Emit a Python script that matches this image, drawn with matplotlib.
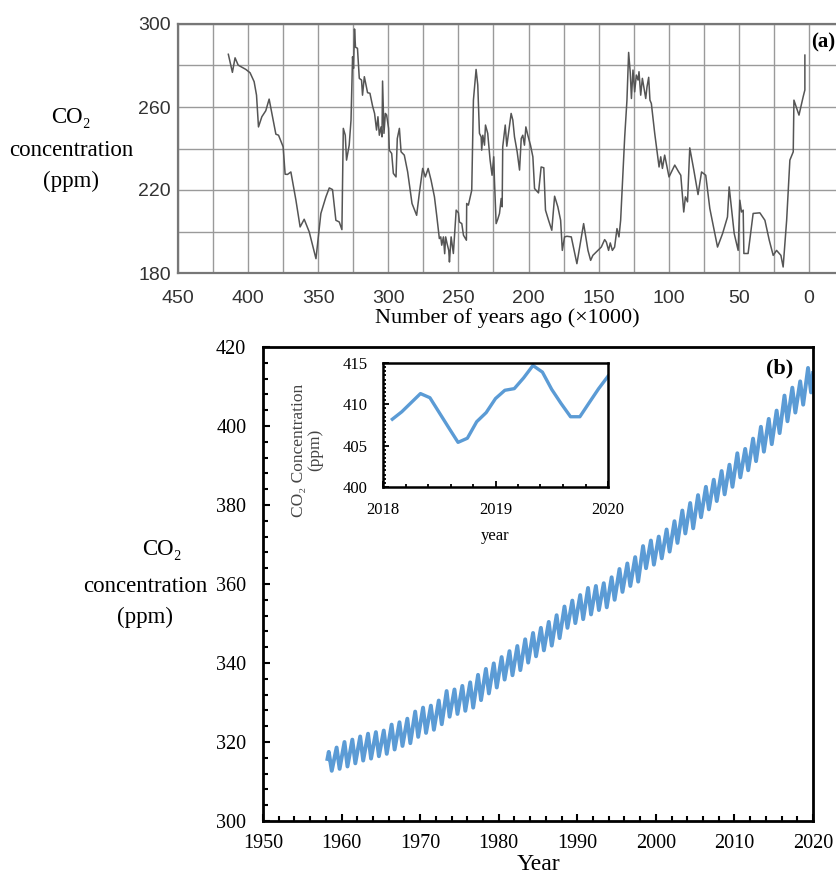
import matplotlib
matplotlib.use("Agg")
import matplotlib.pyplot as plt
import numpy as np
from matplotlib.ticker import MultipleLocator

SERIF = ["Liberation Serif", "DejaVu Serif"]
SANS = ["Liberation Sans", "DejaVu Sans"]
BLUE = "#5b9bd5"

# (a) ice-core record: thousands of years ago, CO2 ppm
kyr_ago = [414.1, 411.2, 409.3, 407.1, 401.6, 398.6, 395.7, 394.0, 392.6, 390.2,
           387.4, 385.0, 382.6, 380.2, 378.3, 375.0, 373.6, 371.9, 369.5, 365.9,
           362.9, 360.0, 356.4, 351.6, 348.1, 344.5, 342.1, 339.8, 337.4, 335.0,
           333.1, 332.1, 330.7, 329.8, 327.9, 326.6, 325.5, 324.8, 324.1, 323.4,
           322.0, 320.7, 319.1, 318.4, 317.1, 315.9, 314.8, 313.1, 311.2, 309.8,
           308.4, 307.4, 306.4, 305.2, 304.5, 304.1, 303.1, 302.1, 301.2, 299.8,
           299.3, 297.6, 296.4, 294.5, 293.6, 292.1, 290.9, 288.6, 286.2, 283.1,
           279.8, 277.9, 275.5, 273.6, 271.6, 269.5, 267.1, 265.5, 263.6, 262.6,
           261.9, 260.7, 259.8, 259.1, 258.1, 256.9, 256.4, 255.2, 253.6, 251.6,
           250.0, 249.3, 247.6, 246.4, 244.3, 244.1, 242.9, 242.1, 240.5, 239.3,
           237.4, 236.2, 235.0, 233.8, 233.4, 232.6, 231.4, 230.7, 229.1, 227.4,
           226.0, 224.8, 224.3, 223.1, 222.0, 220.7, 219.5, 218.8, 218.4, 216.6,
           215.5, 214.3, 212.4, 211.2, 210.0, 208.1, 206.4, 205.2, 204.1, 202.9,
           201.9, 200.5, 198.6, 196.9, 195.7, 192.9, 191.0, 189.1, 187.9, 185.7,
           183.4, 181.4, 179.1, 177.1, 175.9, 174.3, 172.6, 169.5, 165.5, 160.7,
           157.6, 155.7, 154.1, 150.5, 148.1, 145.7, 144.5, 142.9, 141.7, 140.2,
           138.6, 136.9, 135.5, 134.3, 131.4, 129.8, 128.6, 127.4, 126.6, 125.5,
           124.3, 123.1, 121.9, 121.2, 120.0, 118.8, 117.4, 116.4, 115.5, 114.3,
           113.4, 112.4, 110.0, 106.9, 105.7, 104.5, 102.9, 101.2, 99.8, 98.1,
           95.7, 92.9, 91.4, 89.3, 88.1, 86.6, 85.0, 82.1, 79.1, 76.6,
           73.6, 70.7, 65.2, 61.6, 58.1, 56.9, 53.3, 50.5, 49.3, 48.1,
           46.9, 46.4, 43.4, 39.8, 35.0, 31.4, 28.3, 25.5, 23.1, 20.0,
           18.4, 15.9, 13.6, 11.2, 10.7, 7.1, 4.1, 2.9, 2.9]
co2_ice = [285.4, 276.7, 283.7, 280.2, 278.1, 276.5, 272.2, 265.7, 250.4, 255.3,
           258.2, 263.8, 255.3, 246.9, 246.4, 240.8, 227.6, 227.5, 228.7, 215.1,
           202.2, 205.9, 199.8, 186.9, 208.7, 216.7, 221.0, 220.2, 205.4, 204.6,
           200.9, 249.7, 246.4, 234.4, 241.6, 253.7, 284.2, 278.6, 297.6, 288.8,
           288.3, 273.8, 273.0, 265.7, 274.6, 270.6, 266.9, 266.6, 260.4, 256.9,
           248.9, 255.3, 246.4, 250.4, 245.6, 272.5, 247.3, 256.9, 256.1, 249.7,
           239.2, 237.6, 228.0, 226.3, 244.8, 249.7, 238.4, 236.8, 228.7, 213.5,
           207.8, 218.3, 230.4, 226.3, 230.4, 224.7, 216.7, 207.8, 196.6, 197.4,
           193.4, 197.4, 189.3, 197.4, 194.2, 190.9, 185.3, 197.4, 189.4, 210.3,
           209.0, 204.6, 203.8, 198.2, 195.8, 213.5, 212.7, 215.1, 219.9, 263.3,
           278.1, 270.6, 247.3, 245.6, 239.2, 246.4, 241.6, 251.3, 247.3, 234.4,
           227.1, 236.0, 224.7, 203.8, 205.8, 208.7, 215.9, 211.9, 240.8, 251.3,
           241.1, 247.3, 256.9, 253.7, 245.6, 238.4, 229.6, 244.8, 246.4, 241.6,
           250.4, 246.4, 241.6, 236.0, 220.7, 218.6, 231.1, 230.7, 210.3, 205.4,
           200.6, 217.0, 211.9, 205.4, 190.9, 197.4, 197.7, 197.4, 184.5, 203.8,
           190.9, 186.1, 188.5, 190.9, 192.5, 196.1, 194.9, 190.9, 194.5, 190.9,
           192.5, 201.4, 197.4, 205.4, 245.6, 263.3, 286.3, 276.2, 264.1, 277.8,
           267.3, 275.4, 273.0, 277.0, 265.7, 273.8, 268.2, 264.1, 269.7, 274.3,
           263.3, 261.7, 247.3, 231.1, 236.0, 230.4, 236.8, 231.1, 226.3, 228.7,
           232.0, 228.7, 227.1, 209.4, 216.7, 214.3, 240.3, 229.6, 217.8, 228.7,
           227.1, 211.1, 192.5, 199.0, 207.0, 221.5, 199.0, 190.9, 215.1, 209.4,
           210.3, 189.4, 189.4, 208.7, 209.0, 205.4, 195.8, 188.5, 190.9, 188.5,
           182.9, 205.4, 234.4, 238.4, 263.3, 256.1, 265.0, 268.2, 285.0]

# (b) Mauna Loa record: seasonal highs (May) and lows (autumn) for each year
years = list(range(1958, 2020))
co2_high = [317.5, 318.6, 320.0, 320.6, 321.4, 322.1, 322.5, 322.9, 324.4, 325.0,
            325.9, 327.7, 328.7, 329.2, 330.5, 332.9, 333.3, 334.2, 335.1, 337.0,
            338.5, 339.9, 341.5, 343.0, 344.3, 346.0, 347.6, 348.9, 350.4, 352.1,
            354.3, 355.8, 357.2, 359.0, 359.5, 360.2, 361.7, 363.8, 365.2, 366.8,
            369.6, 371.0, 372.0, 373.8, 375.9, 378.6, 380.5, 382.5, 384.6, 386.4,
            388.6, 390.2, 393.1, 394.2, 396.8, 399.8, 401.8, 403.9, 407.7, 409.7,
            411.3, 414.7]
co2_low = [312.7, 313.2, 313.8, 314.6, 315.3, 315.8, 316.4, 317.0, 318.1, 319.0,
           319.7, 321.3, 322.3, 323.1, 324.5, 326.4, 327.1, 327.9, 328.7, 330.6,
           332.3, 333.8, 335.8, 336.9, 338.2, 340.1, 341.7, 343.2, 344.4, 346.3,
           348.9, 350.1, 351.1, 352.3, 353.4, 354.1, 356.0, 358.0, 359.5, 360.6,
           364.0, 364.9, 366.5, 368.2, 370.4, 372.8, 374.1, 376.9, 378.9, 381.0,
           382.7, 384.6, 387.0, 388.8, 391.1, 393.5, 395.4, 398.2, 401.2, 403.4,
           405.4, 408.5]
start_point = (1958.2, 315.7)
end_point = (2020.0, 413.4)

# inset: monthly values 2018-2020
inset_t = [2018.083, 2018.167, 2018.25, 2018.333, 2018.417, 2018.5, 2018.583,
           2018.667, 2018.75, 2018.833, 2018.917, 2019.0, 2019.083, 2019.167,
           2019.25, 2019.333, 2019.417, 2019.5, 2019.583, 2019.667, 2019.75,
           2019.833, 2019.917, 2020.0]
inset_co2 = [408.2, 409.1, 410.2, 411.3, 410.8, 409.0, 407.2, 405.4, 405.9, 407.9,
             409.0, 410.7, 411.7, 411.9, 413.2, 414.7, 413.9, 411.8, 410.1, 408.5,
             408.5, 410.2, 411.9, 413.4]

# build the zigzag series for (b)
t_b = [start_point[0]]
c_b = [start_point[1]]
for y, hi, lo in zip(years, co2_high, co2_low):
    t_b += [y + 0.37, y + 0.75]
    c_b += [hi, lo]
t_b.append(end_point[0])
c_b.append(end_point[1])

fig = plt.figure(figsize=(8.36, 8.74), dpi=100)

# ---------- panel (a) ----------
ax1 = fig.add_axes([178 / 836, 1 - 273 / 874, (836 - 178) / 836, 249 / 874])
ax1.plot(kyr_ago, co2_ice, color="#555555", lw=1.1, zorder=3)
ax1.set_xlim(450, -19.3)
ax1.set_ylim(180, 300)
ax1.set_xticks(np.arange(0, 451, 50))
ax1.xaxis.set_minor_locator(MultipleLocator(25))
ax1.set_yticks([180, 220, 260, 300])
ax1.yaxis.set_minor_locator(MultipleLocator(20))
ax1.grid(which="both", color="#9a9a9a", lw=1.0)
ax1.tick_params(which="both", length=0, labelsize=14, labelcolor="#333333")
ax1.tick_params(axis="x", pad=12)
ax1.tick_params(axis="y", pad=5)
for lab in ax1.get_xticklabels() + ax1.get_yticklabels():
    lab.set_family(SANS)
for s in ["left", "bottom", "top"]:
    ax1.spines[s].set_color("#777777")
    ax1.spines[s].set_linewidth(1.6)
ax1.spines["right"].set_visible(False)
ax1.set_xlabel("Number of years ago (×1000)", family=SERIF, fontsize=16, labelpad=1)
fig.text(835 / 836, 1 - 42 / 874, "(a)", family=SERIF,
         fontweight="bold", fontsize=15, ha="right", va="center")

fig.text(71 / 836, 1 - 117 / 874, "CO₂", family=SERIF, fontsize=16.5, ha="center", va="center")
fig.text(71 / 836, 1 - 150 / 874, "concentration", family=SERIF, fontsize=16.5, ha="center", va="center")
fig.text(71 / 836, 1 - 181 / 874, "(ppm)", family=SERIF, fontsize=16.5, ha="center", va="center")

# ---------- panel (b) ----------
ax2 = fig.add_axes([263 / 836, 1 - 821 / 874, 550 / 836, 474 / 874])
ax2.plot(t_b, c_b, color=BLUE, lw=2.8, solid_joinstyle="round")
ax2.set_xlim(1950, 2020)
ax2.set_ylim(300, 420)
ax2.xaxis.set_major_locator(MultipleLocator(10))
ax2.xaxis.set_minor_locator(MultipleLocator(2))
ax2.yaxis.set_major_locator(MultipleLocator(20))
ax2.yaxis.set_minor_locator(MultipleLocator(4))
ax2.tick_params(which="both", direction="in", width=1.5, labelsize=14.5)
ax2.tick_params(which="major", length=5)
ax2.tick_params(which="minor", length=3.5)
ax2.tick_params(axis="y", pad=12)
ax2.tick_params(axis="x", pad=9)
for lab in ax2.get_xticklabels() + ax2.get_yticklabels():
    lab.set_family(SERIF)
for s in ax2.spines.values():
    s.set_linewidth(2.0)
ax2.set_xlabel("Year", family=SERIF, fontsize=17, labelpad=1)
ax2.text(0.94, 0.955, "(b)", transform=ax2.transAxes, family=SERIF,
         fontweight="bold", fontsize=16, ha="center", va="center")

fig.text(162 / 836, 1 - 550 / 874, "CO₂", family=SERIF, fontsize=16.5, ha="center", va="center")
fig.text(145 / 836, 1 - 586 / 874, "concentration", family=SERIF, fontsize=16.5, ha="center", va="center")
fig.text(145 / 836, 1 - 617 / 874, "(ppm)", family=SERIF, fontsize=16.5, ha="center", va="center")

# ---------- inset ----------
ax3 = fig.add_axes([383 / 836, 1 - 487 / 874, 225 / 836, 124 / 874])
ax3.plot(inset_t, inset_co2, color=BLUE, lw=2.4, solid_joinstyle="round")
ax3.set_xlim(2018, 2020)
ax3.set_ylim(400, 415)
ax3.set_xticks([2018, 2019, 2020])
ax3.xaxis.set_minor_locator(MultipleLocator(0.2))
ax3.yaxis.set_major_locator(MultipleLocator(5))
ax3.yaxis.set_minor_locator(MultipleLocator(0.5))
ax3.tick_params(which="both", direction="in", width=1.3, labelsize=12)
ax3.tick_params(which="major", length=4)
ax3.tick_params(which="minor", length=2.5)
ax3.tick_params(axis="both", pad=11)
for lab in ax3.get_xticklabels() + ax3.get_yticklabels():
    lab.set_family(SERIF)
for s in ax3.spines.values():
    s.set_linewidth(1.8)
ax3.set_xlabel("year", family=SERIF, fontsize=12, labelpad=7)
fig.text(307 / 836, 1 - 450 / 874, "CO₂ Concentration\n(ppm)", family=SERIF,
         fontsize=12.5, color="#444444", rotation=90, ha="center", va="center",
         linespacing=1.0)

fig.savefig("out.png", dpi=100)
